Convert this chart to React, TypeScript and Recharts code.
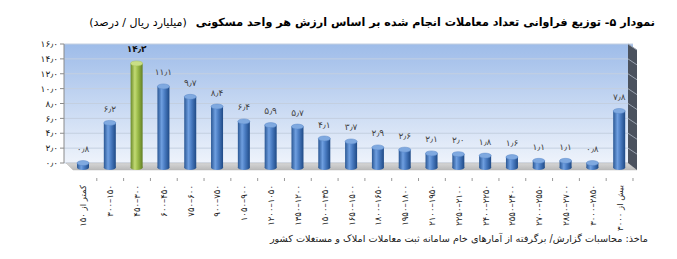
import React from "react";
import { BarChart, Bar, XAxis, YAxis, CartesianGrid, Cell, LabelList } from "recharts";

const categories = [
  "کمتر از ۱۵۰",
  "۱۵۰–۳۰۰",
  "۳۰۰–۴۵۰",
  "۴۵۰–۶۰۰",
  "۶۰۰–۷۵۰",
  "۷۵۰–۹۰۰",
  "۹۰۰–۱۰۵۰",
  "۱۰۵۰–۱۲۰۰",
  "۱۲۰۰–۱۳۵۰",
  "۱۳۵۰–۱۵۰۰",
  "۱۵۰۰–۱۶۵۰",
  "۱۶۵۰–۱۸۰۰",
  "۱۸۰۰–۱۹۵۰",
  "۱۹۵۰–۲۱۰۰",
  "۲۱۰۰–۲۲۵۰",
  "۲۲۵۰–۲۴۰۰",
  "۲۴۰۰–۲۵۵۰",
  "۲۵۵۰–۲۷۰۰",
  "۲۷۰۰–۲۸۵۰",
  "۲۸۵۰–۳۰۰۰",
  "بیش از ۳۰۰۰",
];

const shares = [0.8, 6.2, 14.2, 11.1, 9.7, 8.4, 6.4, 5.9, 5.7, 4.1, 3.7, 2.9, 2.6, 2.1, 2.0, 1.8, 1.6, 1.1, 1.1, 0.8, 7.8];

const highlightIndex = 2;

const yTicks = [0, 2, 4, 6, 8, 10, 12, 14, 16];

const data = categories.map((name, i) => ({ name, value: shares[i] }));

const FONT = "'DejaVu Sans', sans-serif";

const fa = (s: string) =>
  s.replace(/\d/g, (d) => "۰۱۲۳۴۵۶۷۸۹"[+d]).replace(".", "٫");

// plot box (matches chart margins below)
const TOP = 44;
const BOTTOM = 163;
const LEFT = 64;
const RIGHT = 633;

function Cylinder(props: any) {
  const { x, y, width, height, index } = props;
  const green = index === highlightIndex;
  const cx = x + width / 2;
  const rx = width / 2;
  const ry = 2.5;
  const topY = y + 6;
  const botY = y + height + 4.5;
  const body = green ? "url(#cylGreen)" : "url(#cylBlue)";
  return (
    <g>
      <ellipse cx={cx} cy={botY} rx={rx} ry={ry} fill={body} />
      <rect x={x} y={topY} width={width} height={Math.max(botY - topY, 0)} fill={body} />
      <ellipse
        cx={cx}
        cy={topY}
        rx={rx}
        ry={ry}
        fill={green ? "#c9de86" : "#7fa9e0"}
        stroke={green ? "#a7c25a" : "#5a88c8"}
        strokeWidth={0.5}
      />
    </g>
  );
}

function XTick(props: any) {
  const { x, y, payload } = props;
  const ty = y + 14;
  return (
    <g>
      <line x1={x + 13.4} y1={y + 7} x2={x + 13.4} y2={y + 10} stroke="#999" />
      <text
        x={x}
        y={ty}
        transform={`rotate(-90 ${x} ${ty})`}
        direction="rtl"
        textAnchor="start"
        dominantBaseline="central"
        fontSize={8.5}
        fontFamily={FONT}
        fill="#222"
      >
        {payload.value}
      </text>
    </g>
  );
}

function ValueLabel(props: any) {
  const { x, y, width, value, index } = props;
  const bold = index === highlightIndex;
  return (
    <text
      x={x + width / 2}
      y={y - 8}
      textAnchor="middle"
      dominantBaseline="central"
      fontSize={9}
      fontWeight={bold ? "bold" : "normal"}
      fontFamily={FONT}
      fill={bold ? "#111" : "#444"}
    >
      {fa(Number(value).toFixed(1))}
    </text>
  );
}

function Walls() {
  const depthX = 9;
  const depthY = 7;
  const wallL = 628;
  const scaleY = (v: number) => BOTTOM - ((BOTTOM - TOP) * v) / 16;
  return (
    <g>
      <polygon
        points={`${LEFT + 2},${BOTTOM} ${wallL},${BOTTOM} ${wallL + depthX},${BOTTOM + depthY} ${LEFT + 9},${BOTTOM + depthY}`}
        fill="url(#floor)"
        stroke="#b8b8b8"
        strokeWidth={0.5}
      />
      <polygon
        points={`${wallL},${TOP} ${wallL + depthX},${TOP + 6} ${wallL + depthX},${BOTTOM + depthY} ${wallL},${BOTTOM}`}
        fill="#4b525e"
      />
      {yTicks.slice(1).map((t) => (
        <line
          key={t}
          x1={wallL}
          y1={scaleY(t)}
          x2={wallL + depthX}
          y2={scaleY(t) + 6}
          stroke="#9aa3b0"
          strokeWidth={1}
        />
      ))}
    </g>
  );
}

export default function App() {
  return (
    <div style={{ position: "absolute", left: 0, top: 0, width: 677, height: 259, background: "#fff" }}>
      <div
        style={{
          position: "absolute",
          right: 22,
          top: 11,
          direction: "rtl",
          fontFamily: FONT,
          whiteSpace: "nowrap",
          color: "#000",
        }}
      >
        <span style={{ fontWeight: "bold", fontSize: 11.2 }}>
          نمودار ۵- توزیع فراوانی تعداد معاملات انجام شده بر اساس ارزش هر واحد مسکونی
        </span>
        <span style={{ fontSize: 11, marginRight: 9 }}>(میلیارد ریال / درصد)</span>
      </div>
      <BarChart
        width={677}
        height={259}
        data={data}
        margin={{ top: TOP, bottom: 0, left: 0, right: 677 - RIGHT }}
        barSize={12}
      >
        <defs>
          <linearGradient id="wallBg" x1="0" y1="0" x2="0" y2="1">
            <stop offset="0%" stopColor="#9ebce9" />
            <stop offset="100%" stopColor="#eef3fb" />
          </linearGradient>
          <linearGradient id="floor" x1="0" y1="0" x2="0" y2="1">
            <stop offset="0%" stopColor="#d6d6d6" />
            <stop offset="100%" stopColor="#b9b9b9" />
          </linearGradient>
          <linearGradient id="cylBlue" x1="0" y1="0" x2="1" y2="0">
            <stop offset="0%" stopColor="#2a5794" />
            <stop offset="35%" stopColor="#6f9fe0" />
            <stop offset="60%" stopColor="#4a7cc2" />
            <stop offset="100%" stopColor="#1f4a86" />
          </linearGradient>
          <linearGradient id="cylGreen" x1="0" y1="0" x2="1" y2="0">
            <stop offset="0%" stopColor="#6b8a2a" />
            <stop offset="35%" stopColor="#c2da74" />
            <stop offset="60%" stopColor="#9cbc4a" />
            <stop offset="100%" stopColor="#627f24" />
          </linearGradient>
        </defs>
        <CartesianGrid vertical={false} fill="url(#wallBg)" stroke="#c3cfe0" strokeWidth={1} />
        <Walls />
        <XAxis
          dataKey="name"
          interval={0}
          axisLine={false}
          tickLine={false}
          tick={<XTick />}
          padding={{ left: 6, right: 0 }}
          height={259 - BOTTOM}
        />
        <YAxis
          domain={[0, 16]}
          ticks={yTicks}
          interval={0}
          width={64}
          axisLine={{ stroke: "#8a8a8a" }}
          tickLine={{ stroke: "#8a8a8a" }}
          tickSize={4}
          tickFormatter={(v: number) => fa(v.toFixed(1))}
          tick={{ fontSize: 9, fontFamily: FONT, fill: "#222" }}
        />
        <Bar dataKey="value" shape={<Cylinder />} isAnimationActive={false}>
          {data.map((d, i) => (
            <Cell key={d.name} fill={i === highlightIndex ? "#9bbb59" : "#4f81bd"} />
          ))}
          <LabelList dataKey="value" content={<ValueLabel />} />
        </Bar>
      </BarChart>
      <div
        style={{
          position: "absolute",
          right: 29,
          top: 233,
          direction: "rtl",
          fontFamily: FONT,
          fontSize: 9.7,
          whiteSpace: "nowrap",
          color: "#222",
        }}
      >
        ماخذ: محاسبات گزارش/ برگرفته از آمارهای خام سامانه ثبت معاملات املاک و مستغلات کشور
      </div>
    </div>
  );
}
